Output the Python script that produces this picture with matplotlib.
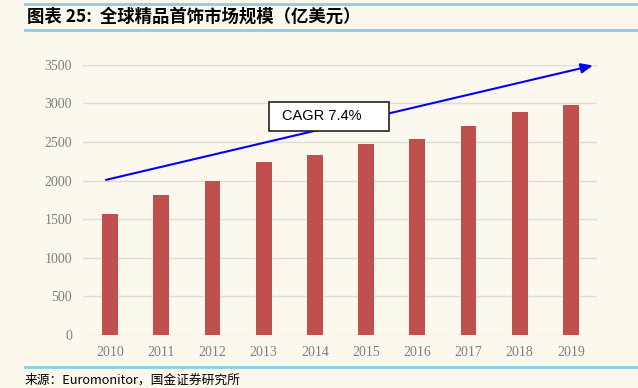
import matplotlib
matplotlib.use("Agg")
import matplotlib.pyplot as plt
from matplotlib.patches import Rectangle
from matplotlib.lines import Line2D

years = ["2010", "2011", "2012", "2013", "2014", "2015", "2016", "2017", "2018", "2019"]
values = [1570, 1810, 1990, 2240, 2330, 2470, 2540, 2700, 2890, 2980]
yticks = [0, 500, 1000, 1500, 2000, 2500, 3000, 3500]
title = "图表 25:  全球精品首饰市场规模（亿美元）"
source = "来源：Euromonitor，国金证券研究所"
cagr_label = "CAGR 7.4%"

bg = "#FDF8EE"
W, H = 638, 388
fig = plt.figure(figsize=(W / 100, H / 100), dpi=100, facecolor=bg)

ax = fig.add_axes([83 / W, 1 - 335 / H, (597 - 83) / W, (335 - 64.7) / H])
ax.set_facecolor(bg)
x = list(range(len(years)))
ax.bar(x, values, width=0.31, color="#C0504D", zorder=3)
ax.set_xlim(-0.53, 9.51)
ax.set_ylim(0, 3500)
ax.set_yticks(yticks)
ax.set_xticks(x)
ax.set_xticklabels(years)
for s in ax.spines.values():
    s.set_visible(False)
ax.grid(axis="y", color="#DCDCDC", lw=1, zorder=0)
ax.tick_params(length=0, labelcolor="#7F7F7F", labelsize=10, pad=8,
               labelfontfamily="Liberation Serif")

ax.annotate("", xy=(9.43, 3490), xytext=(-0.08, 2009),
            arrowprops=dict(arrowstyle="-|>,head_length=0.7,head_width=0.3",
                            color="#0000FF", lw=1.5, shrinkA=0, shrinkB=0),
            zorder=5)

# CAGR box
bx0, bx1, by0, by1 = 269, 389, 101.7, 130.7
fig.patches.append(Rectangle((bx0 / W, 1 - by1 / H), (bx1 - bx0) / W, (by1 - by0) / H,
                             transform=fig.transFigure, facecolor="white",
                             edgecolor="#222222", lw=1.2, zorder=10))
fig.text(282 / W, 1 - (by0 + by1) / 2 / H, cagr_label, fontsize=10.5,
         family="Liberation Sans", va="center", ha="left", zorder=11)

# header/footer lines
lc = "#8DCBE6"
for yy in (3.5, 29.5):
    fig.add_artist(Line2D([25 / W, 1], [1 - yy / H] * 2, color=lc, lw=2, transform=fig.transFigure))
fig.add_artist(Line2D([25 / W, 1], [1 - 367 / H] * 2, color=lc, lw=2, transform=fig.transFigure))

fig.text(27 / W, 1 - 16.5 / H, title, fontsize=12.5, fontweight="bold",
         family=["Noto Sans CJK SC", "DejaVu Sans"], va="center", ha="left", style="italic")
fig.text(25 / W, 1 - 380 / H, source, fontsize=9.2,
         family=["Noto Sans CJK SC", "DejaVu Sans"], va="center", ha="left")

fig.savefig("out.png", dpi=100, facecolor=bg)
